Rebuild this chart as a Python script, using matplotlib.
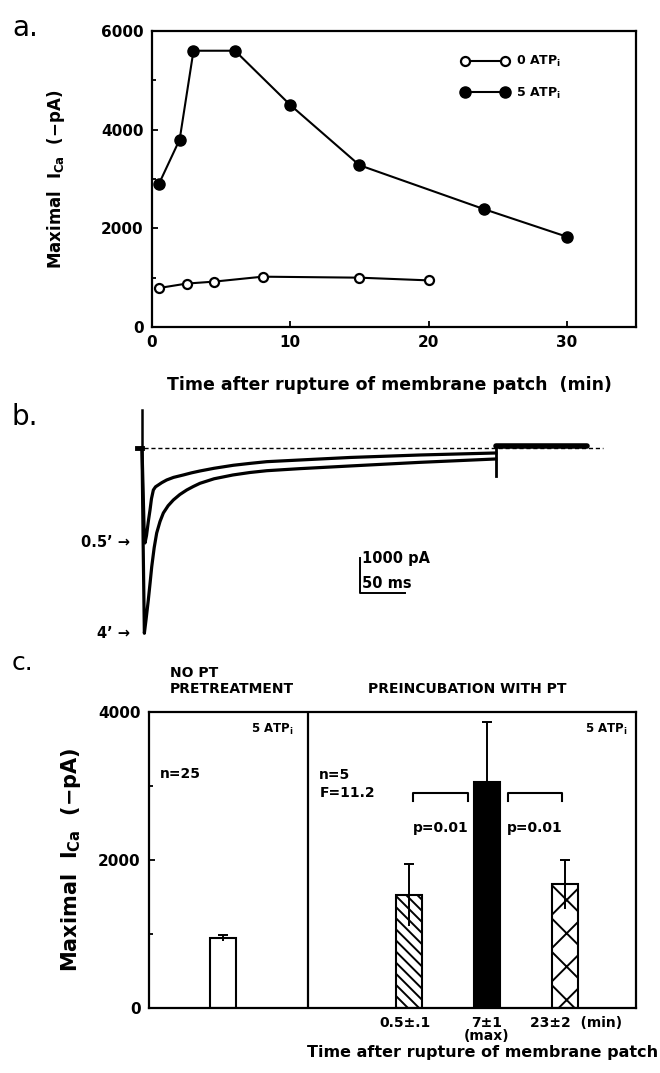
import numpy as np
import matplotlib
matplotlib.use('Agg')
import matplotlib.pyplot as plt
from matplotlib.ticker import MultipleLocator

plt.rcParams['font.family'] = ['DejaVu Sans']
plt.rcParams['font.weight'] = 'bold'
plt.rcParams['axes.labelweight'] = 'bold'
plt.rcParams['mathtext.fontset'] = 'custom'
plt.rcParams['mathtext.rm'] = 'DejaVu Sans:bold'
plt.rcParams['mathtext.it'] = 'DejaVu Sans:bold'
plt.rcParams['mathtext.bf'] = 'DejaVu Sans:bold'
plt.rcParams['mathtext.default'] = 'rm'
plt.rcParams['hatch.linewidth'] = 1.4
plt.rcParams['axes.linewidth'] = 1.6

# --- panel a: maximal I_Ca vs time after rupture (min, -pA)
t_0atp = [0.5, 2.5, 4.5, 8, 15, 20]
ica_0atp = [790, 880, 920, 1020, 1000, 945]
t_5atp = [0.5, 2, 3, 6, 10, 15, 24, 30]
ica_5atp = [2900, 3800, 5600, 5600, 4500, 3280, 2390, 1830]

# --- panel b: current traces (ms, pA)
trace05_t = [0, 1.5, 2.5, 3.3, 5, 7, 8.9, 10.5, 12.6, 15, 18.1, 22, 27.4, 35, 45.9,
             55, 64.4, 80, 101.4, 120, 138.6, 175.6, 231, 309, 393]
trace05_i = [0, -1500, -2500, -2714, -2500, -2100, -1771, -1450, -1200, -1110, -1057,
             -990, -914, -840, -771, -710, -657, -580, -494, -440, -391, -343, -271, -200, -143]
trace4_t = [0, 1.3, 2.6, 4.5, 7, 9, 10.8, 13.5, 16.3, 20, 23.7, 29, 34.8, 42, 49.7,
            57, 64.4, 80, 101, 120, 138.6, 175.6, 231, 309, 393]
trace4_i = [0, -2800, -5294, -4900, -4343, -3850, -3391, -2850, -2429, -2100, -1857,
            -1650, -1486, -1330, -1200, -1100, -1009, -880, -771, -700, -649, -590,
            -514, -410, -314]
spike_top = 1086      # pA, capacity transient at pulse onset
step_time = 393       # ms, end of test pulse
tail_peak = -800      # pA
post_level = 57       # pA
post_end = 494        # ms
baseline_end = 512    # ms
scale_pa = 1000
scale_ms = 50
trace_labels = ['0.5’ →', '4’ →']

# --- panel c: bars
bar_means = [950, 1530, 3050, 1670]
bar_err = [40, 420, 820, 330]
bar_colors = ['white', 'white', 'black', 'white']
bar_hatches = ['', '\\\\\\', '', 'x']
tick_texts = ['0.5±.1', '7±1', '(max)', '23±2  (min)']


def px_axes(left, top, right, bottom):
    return [left / 660, 1 - bottom / 1073, (right - left) / 660, (bottom - top) / 1073]


fig = plt.figure(figsize=(6.6, 10.73), dpi=100)

# ---------------- panel a
ax_a = fig.add_axes(px_axes(152, 31, 636, 327))
ax_a.plot(t_0atp, ica_0atp, color='black', lw=1.5, marker='o', ms=6.5,
          mfc='white', mec='black', mew=1.6, label='0 ATP$_{i}$')
ax_a.plot(t_5atp, ica_5atp, color='black', lw=1.5, marker='o', ms=8,
          mfc='black', mec='black', label='5 ATP$_{i}$')
ax_a.set_xlim(0, 35)
ax_a.set_ylim(0, 6000)
ax_a.set_xticks([0, 10, 20, 30])
ax_a.set_yticks([0, 2000, 4000, 6000])
ax_a.yaxis.set_minor_locator(MultipleLocator(1000))
ax_a.tick_params(direction='in', length=4, width=1.3, labelsize=11, pad=6)
ax_a.tick_params(which='minor', direction='in', length=3, width=1.3)
ax_a.set_ylabel('Maximal  I$_{Ca}$  (−pA)', fontsize=12)
ax_a.yaxis.set_label_coords(-0.175, 0.5)
ax_a.set_xlabel('Time after rupture of membrane patch  (min)', fontsize=12.5)
ax_a.xaxis.set_label_coords(0.49, -0.165)
ax_a.legend(loc='upper left', bbox_to_anchor=(0.615, 0.96), numpoints=2,
            frameon=False, handlelength=3.8, fontsize=9, labelspacing=1.3,
            handletextpad=0.6)

# ---------------- panel b
ax_b = fig.add_axes(px_axes(70, 400, 620, 645))
ax_b.set_xlim(-80, 531)
ax_b.set_ylim(-5629, 1371)
ax_b.axis('off')
ax_b.plot([-6, baseline_end], [0, 0], color='black', lw=1.0, dashes=(3, 2))
ax_b.plot([-6, 0], [0, 0], color='black', lw=3.5)
ax_b.plot([0, 0], [spike_top, 0], color='black', lw=1.8)
ax_b.plot(trace05_t, trace05_i, color='black', lw=2.3, solid_joinstyle='round')
ax_b.plot(trace4_t, trace4_i, color='black', lw=2.3, solid_joinstyle='round')
ax_b.plot([step_time, step_time], [tail_peak, post_level], color='black', lw=2.0)
ax_b.plot([step_time, post_end], [post_level, post_level], color='black', lw=4.0,
          solid_capstyle='round')
ax_b.text(-13, min(trace05_i), trace_labels[0], ha='right', va='center', fontsize=10.5)
ax_b.text(-13, min(trace4_i), trace_labels[1], ha='right', va='center', fontsize=10.5)
# scale bar
sb_x, sb_y = 242, -4143
ax_b.plot([sb_x, sb_x, sb_x + scale_ms], [sb_y + scale_pa, sb_y, sb_y], color='black', lw=1.4)
ax_b.text(sb_x + 2, sb_y + scale_pa - 20, f'{scale_pa} pA', ha='left', va='center', fontsize=10.5)
ax_b.text(sb_x + 2, sb_y + 280, f'{scale_ms} ms', ha='left', va='center', fontsize=10.5)

# ---------------- panel c
ax_c = fig.add_axes(px_axes(149, 712, 636, 1008))
bar_x = [2.83, 10.0, 13.0, 16.0]
divider = 6.1
ax_c.set_xlim(0, 18.73)
ax_c.set_ylim(0, 4000)
ax_c.bar(bar_x, bar_means, width=1.0, color=bar_colors, edgecolor='black',
         linewidth=1.5, hatch=bar_hatches)
ax_c.errorbar(bar_x, bar_means, yerr=[np.zeros(4), bar_err], fmt='none',
              ecolor='black', elinewidth=1.4, capsize=3.5, capthick=1.4)
ax_c.vlines(bar_x, np.array(bar_means) - np.array(bar_err), bar_means,
            color='black', lw=1.4)
ax_c.axvline(divider, color='black', lw=1.6)
ax_c.set_xticks([])
ax_c.set_yticks([0, 2000, 4000])
ax_c.yaxis.set_minor_locator(MultipleLocator(1000))
ax_c.tick_params(direction='in', length=4, width=1.3, labelsize=11, pad=6)
ax_c.tick_params(which='minor', direction='in', length=3, width=1.3)
ax_c.set_ylabel('Maximal  I$_{Ca}$  (−pA)', fontsize=15)
ax_c.yaxis.set_label_coords(-0.135, 0.5)

# significance brackets
for x0, x1 in [(10.15, 12.27), (13.8, 15.9)]:
    ax_c.plot([x0, x0, x1, x1], [2800, 2900, 2900, 2800], color='black', lw=1.5)
    ax_c.text((x0 + x1) / 2, 2430, 'p=0.01', ha='center', va='center', fontsize=10)

ax_c.text(0.42, 3160, 'n=25', ha='left', va='center', fontsize=10)
ax_c.text(6.55, 3145, 'n=5', ha='left', va='center', fontsize=10)
ax_c.text(6.55, 2900, 'F=11.2', ha='left', va='center', fontsize=10)
ax_c.text(5.55, 3760, '5 ATP$_{i}$', ha='right', va='center', fontsize=8.5)
ax_c.text(18.4, 3760, '5 ATP$_{i}$', ha='right', va='center', fontsize=8.5)

xt = ax_c.get_xaxis_transform()
ax_c.text(bar_x[1] - 0.15, -0.05, tick_texts[0], transform=xt, ha='center', va='center', fontsize=10)
ax_c.text(bar_x[2], -0.05, tick_texts[1], transform=xt, ha='center', va='center', fontsize=10)
ax_c.text(bar_x[2], -0.095, tick_texts[2], transform=xt, ha='center', va='center', fontsize=10)
ax_c.text(14.65, -0.05, tick_texts[3], transform=xt, ha='left', va='center', fontsize=10)

fig.text(658 / 660, 1 - 1052 / 1073, 'Time after rupture of membrane patch',
         ha='right', va='center', fontsize=11.5)
fig.text(170 / 660, 1 - 673 / 1073, 'NO PT', ha='left', va='center', fontsize=10)
fig.text(170 / 660, 1 - 689 / 1073, 'PRETREATMENT', ha='left', va='center', fontsize=10)
fig.text(368 / 660, 1 - 689 / 1073, 'PREINCUBATION WITH PT', ha='left', va='center', fontsize=10)

# panel letters
fig.text(12 / 660, 1 - 28 / 1073, 'a.', ha='left', va='center', fontsize=20, fontweight='normal')
fig.text(12 / 660, 1 - 417 / 1073, 'b.', ha='left', va='center', fontsize=20, fontweight='normal')
fig.text(12 / 660, 1 - 663 / 1073, 'c.', ha='left', va='center', fontsize=18, fontweight='normal')

fig.savefig('out.png', dpi=100)
